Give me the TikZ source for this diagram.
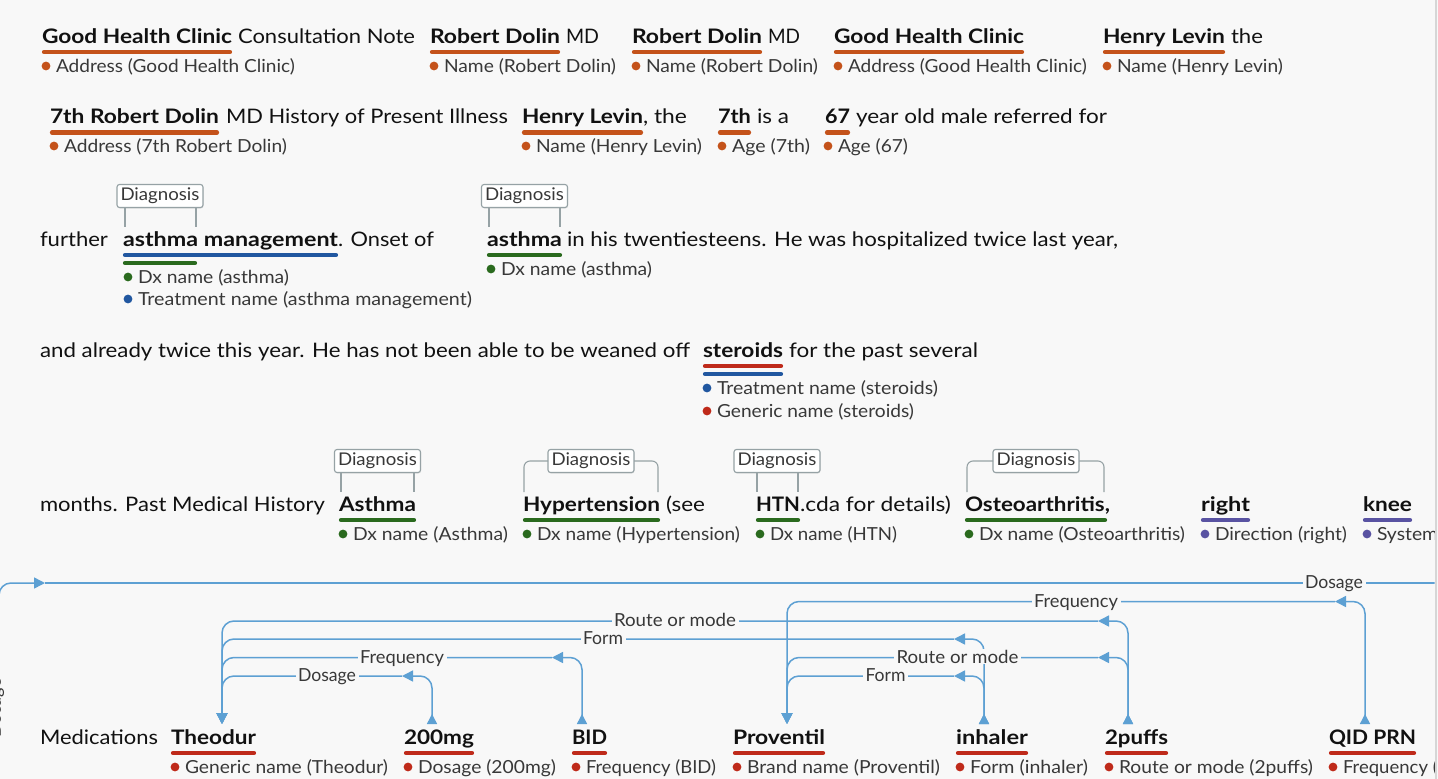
\documentclass[tikz,border=0pt]{standalone}
\usepackage{fontspec}
\setmainfont{Lato}
\usepackage{graphicx}
\usetikzlibrary{calc,arrows.meta,shadows}

\definecolor{bgc}{HTML}{F8F8F8}
\definecolor{ink}{HTML}{111111}
\definecolor{labc}{HTML}{383838}
\definecolor{cOr}{HTML}{C4521A}
\definecolor{cGr}{HTML}{2A6A1E}
\definecolor{cBl}{HTML}{2157A0}
\definecolor{cRd}{HTML}{BF2A1A}
\definecolor{cPu}{HTML}{5953A2}
\definecolor{cLn}{HTML}{5DA0D3}
\definecolor{cBox}{HTML}{96A2A5}
\definecolor{cEdge}{HTML}{D6D6D6}

% set a text at a given width (horizontal scaling only)
\newsavebox\fitbx
\newcommand\fitw[2]{\sbox\fitbx{#2}\pgfmathsetmacro\fitr{#1/\the\wd\fitbx}\scalebox{\fitr}[1]{\usebox\fitbx}}

% entity label: coloured dot followed by grey text
\newcommand\lab[6]{%
  \fill[#2] (#3,#4) circle (4.4pt);
  \node[lbl] (#1) at (#3+10,#4+6.5) {\fitw{#5}{#6}};}

% coloured underline below a word, #3 = depth below baseline
\newcommand\uln[3]{\draw[ul,#2] ([yshift=-#3pt]#1.base west) -- ([yshift=-#3pt]#1.base east);}

% medication relation: source -> mid arrow -> target, label halfway
\newcommand\medrel[6]{%
  \draw[rel,srcT] (#1) |- ($(#1 |- #3)+(-30,0)$) coordinate (#6m);
  \draw[rel,tipT] (#6m) -| (#2);
  \node[clab] (#6) at ($(#1 |- #3)!.5!(#2 |- #3)+(0,5.5)$) {\fitw{#5}{#4}};}

\tikzset{
  every node/.style={inner sep=0pt, outer sep=0pt},
  tx/.style={anchor=base west, text=ink, font=\fontsize{20}{24}\selectfont},
  wd/.style={tx, font=\fontsize{20}{24}\selectfont\bfseries, text height=18pt, text depth=4pt, inner ysep=2pt},
  lbl/.style={anchor=base west, text=labc, font=\fontsize{18}{22}\selectfont},
  ul/.style={line width=4.2pt, line cap=round, shorten <=2pt, shorten >=2pt},
  dxbox/.style={draw=cBox, fill=white, rounded corners=2.5pt, line width=1.1pt,
    minimum width=86pt, minimum height=23pt, text=labc, font=\fontsize{17.5}{20}\selectfont,
    drop shadow={shadow xshift=0.5pt, shadow yshift=-1pt, opacity=.18}},
  dxtick/.style={draw=cBox, line width=1.1pt},
  rel/.style={draw=cLn, line width=1.5pt, rounded corners=12pt},
  tipT/.style={-{Triangle[length=11pt,width=11pt]}},
  srcT/.style={{Triangle[reversed,length=10pt,width=10pt]}-{Triangle[length=11pt,width=11pt]}},
  clab/.style={anchor=base, fill=bgc, inner xsep=2.5pt, inner ysep=1pt, text=labc, font=\fontsize{18}{22}\selectfont},
}

\begin{document}
\begin{tikzpicture}[x=1pt,y=-1pt]
\useasboundingbox (0,0) rectangle (1438,779);
\fill[bgc] (0,0) rectangle (1438,779);

\begin{scope}
\clip (0,0) rectangle (1434.5,779);

% ---------- line 1 ----------
\node[wd] (r1a) at (42,43) {\fitw{190}{Good Health Clinic}};
\node[tx] (r1b) at (238,43) {\fitw{177}{Consultation Note}};
\node[wd] (r1c) at (430,43) {\fitw{130}{Robert Dolin}};
\node[tx] (r1d) at (566,43) {\fitw{33}{MD}};
\node[wd] (r1e) at (632,43) {\fitw{130}{Robert Dolin}};
\node[tx] (r1f) at (768,43) {\fitw{32}{MD}};
\node[wd] (r1g) at (834,43) {\fitw{190}{Good Health Clinic}};
\node[wd] (r1h) at (1103,43) {\fitw{122}{Henry Levin}};
\node[tx] (r1i) at (1231,43) {\fitw{32}{the}};
\uln{r1a}{cOr}{9}\uln{r1c}{cOr}{9}\uln{r1e}{cOr}{9}\uln{r1g}{cOr}{9}\uln{r1h}{cOr}{9}
\lab{l1a}{cOr}{46}{66}{239}{Address (Good Health Clinic)}
\lab{l1c}{cOr}{434}{66}{172}{Name (Robert Dolin)}
\lab{l1e}{cOr}{636}{66}{172}{Name (Robert Dolin)}
\lab{l1g}{cOr}{838}{66}{239}{Address (Good Health Clinic)}
\lab{l1h}{cOr}{1107}{66}{166}{Name (Henry Levin)}

% ---------- line 2 ----------
\node[wd] (r2a) at (50,123) {\fitw{169}{7th Robert Dolin}};
\node[tx] (r2b) at (226,123) {\fitw{282}{MD History of Present Illness}};
\node[wd] (r2c) at (522,123) {\fitw{121}{Henry Levin}};
\node[tx] (r2d) at (643,123) {\fitw{44}{, the}};
\node[wd] (r2e) at (718,123) {\fitw{33}{7th}};
\node[tx] (r2f) at (757,123) {\fitw{32}{is a}};
\node[wd] (r2g) at (825,123) {\fitw{25}{67}};
\node[tx] (r2h) at (856,123) {\fitw{251}{year old male referred for}};
\uln{r2a}{cOr}{9.5}\uln{r2c}{cOr}{9.5}\uln{r2e}{cOr}{9.5}\uln{r2g}{cOr}{9.5}
\lab{l2a}{cOr}{54}{146}{223}{Address (7th Robert Dolin)}
\lab{l2c}{cOr}{526}{146}{166}{Name (Henry Levin)}
\lab{l2e}{cOr}{722}{146}{78}{Age (7th)}
\lab{l2g}{cOr}{828}{146}{70}{Age (67)}

% ---------- line 3 ----------
\node[tx] (r3a) at (40,246) {\fitw{68}{further}};
\node[wd] (r3b) at (123,246) {\fitw{215}{asthma management}};
\node[tx] (r3c) at (338,246) {\fitw{96}{. Onset of}};
\node[wd] (r3d) at (487,246) {\fitw{75}{asthma}};
\node[tx] (r3e) at (567,246) {\fitw{551}{in his twentiesteens. He was hospitalized twice last year,}};
\uln{r3b}{cBl}{9}
\draw[ul,cGr] ([yshift=-17pt]r3b.base west) -- ([shift={(74pt,-17pt)}]r3b.base west);
\uln{r3d}{cGr}{9}
\lab{l3a}{cGr}{128}{277}{151}{Dx name (asthma)}
\lab{l3b}{cBl}{128}{299}{334}{Treatment name (asthma management)}
\lab{l3d}{cGr}{491}{269}{151}{Dx name (asthma)}
\node[dxbox] (dx1) at (160,196) {\fitw{79}{Diagnosis}};
\draw[dxtick] ([xshift=-35pt]dx1.south) -- ++(0,19);
\draw[dxtick] ([xshift=36pt]dx1.south) -- ++(0,19);
\node[dxbox] (dx2) at (524.5,196) {\fitw{79}{Diagnosis}};
\draw[dxtick] ([xshift=-35.5pt]dx2.south) -- ++(0,19);
\draw[dxtick] ([xshift=35.5pt]dx2.south) -- ++(0,19);

% ---------- line 4 ----------
\node[tx] (r4a) at (40,357) {\fitw{650}{and already twice this year. He has not been able to be weaned off}};
\node[wd] (r4b) at (703,357) {\fitw{80}{steroids}};
\node[tx] (r4c) at (789,357) {\fitw{189}{for the past several}};
\uln{r4b}{cRd}{9}\uln{r4b}{cBl}{17}
\lab{l4a}{cBl}{707}{388}{221}{Treatment name (steroids)}
\lab{l4b}{cRd}{707}{411}{197}{Generic name (steroids)}

% ---------- line 5 ----------
\node[tx] (r5a) at (40,511) {\fitw{285}{months. Past Medical History}};
\node[wd] (r5b) at (339,511) {\fitw{77}{Asthma}};
\node[wd] (r5c) at (523,511) {\fitw{137}{Hypertension}};
\node[tx] (r5d) at (666,511) {\fitw{39}{(see}};
\node[wd] (r5e) at (756,511) {\fitw{44}{HTN}};
\node[tx] (r5f) at (800,511) {\fitw{151}{.cda for details)}};
\node[wd] (r5g) at (965,511) {\fitw{145}{Osteoarthritis,}};
\node[wd] (r5h) at (1201,511) {\fitw{49}{right}};
\node[wd] (r5i) at (1363,511) {\fitw{49}{knee}};
\uln{r5b}{cGr}{9}\uln{r5c}{cGr}{9}\uln{r5e}{cGr}{9}
\draw[ul,cGr] ([yshift=-9pt]r5g.base west) -- ([shift={(-3pt,-9pt)}]r5g.base east);
\uln{r5h}{cPu}{9}\uln{r5i}{cPu}{9}
\lab{l5b}{cGr}{343}{534}{155}{Dx name (Asthma)}
\lab{l5c}{cGr}{527}{534}{203}{Dx name (Hypertension)}
\lab{l5e}{cGr}{760}{534}{127}{Dx name (HTN)}
\lab{l5g}{cGr}{969}{534}{206}{Dx name (Osteoarthritis)}
\lab{l5h}{cPu}{1205}{534}{132}{Direction (right)}
\lab{l5i}{cPu}{1367}{534}{205}{System organ site (knee)}
\node[dxbox] (dx3) at (377.5,461) {\fitw{79}{Diagnosis}};
\draw[dxtick] ([xshift=-36.5pt]dx3.south) -- ++(0,19.5);
\draw[dxtick] ([xshift=36.5pt]dx3.south) -- ++(0,19.5);
\node[dxbox] (dx4) at (591,461) {\fitw{79}{Diagnosis}};
\draw[dxtick,rounded corners=6pt] (dx4.west) -| ++(-24,31);
\draw[dxtick,rounded corners=6pt] (dx4.east) -| ++(24,31);
\node[dxbox] (dx5) at (777,461) {\fitw{79}{Diagnosis}};
\draw[dxtick] ([xshift=-20pt]dx5.south) -- ++(0,19.5);
\draw[dxtick] ([xshift=21pt]dx5.south) -- ++(0,19.5);
\node[dxbox] (dx6) at (1036,461) {\fitw{79}{Diagnosis}};
\draw[dxtick,rounded corners=6pt] (dx6.west) -| ++(-26,31);
\draw[dxtick,rounded corners=6pt] (dx6.east) -| ++(25,31);

% ---------- line 6: medications ----------
\node[tx] (r6a) at (40,744) {\fitw{118}{Medications}};
\node[wd] (theo) at (171,744) {\fitw{85}{Theodur}};
\node[wd] (mg) at (404,744) {\fitw{70}{200mg}};
\node[wd] (bid) at (572,744) {\fitw{35}{BID}};
\node[wd] (prov) at (733,744) {\fitw{92}{Proventil}};
\node[wd] (inh) at (956,744) {\fitw{72}{inhaler}};
\node[wd] (puf) at (1105,744) {\fitw{63}{2puffs}};
\node[wd] (qid) at (1329,744) {\fitw{87}{QID PRN}};
\uln{theo}{cRd}{9}\uln{mg}{cRd}{9}\uln{bid}{cRd}{9}\uln{prov}{cRd}{9}
\uln{inh}{cRd}{9}\uln{puf}{cRd}{9}\uln{qid}{cRd}{9}
\lab{l6a}{cRd}{175}{767}{203}{Generic name (Theodur)}
\lab{l6b}{cRd}{408}{767}{138}{Dosage (200mg)}
\lab{l6c}{cRd}{576}{767}{130}{Frequency (BID)}
\lab{l6d}{cRd}{737}{767}{193}{Brand name (Proventil)}
\lab{l6e}{cRd}{960}{767}{118}{Form (inhaler)}
\lab{l6f}{cRd}{1109}{767}{194}{Route or mode (2puffs)}
\lab{l6g}{cRd}{1333}{767}{175}{Frequency (QID PRN)}

% relation levels and attachment points
\coordinate (L0) at (0,583);
\coordinate (L1) at (0,601.5);
\coordinate (L2) at (0,621);
\coordinate (L3) at (0,639);
\coordinate (L4) at (0,657.5);
\coordinate (L5) at (0,676);
\coordinate (aTheo) at ([xshift=8.5pt]theo.north);
\coordinate (aMg) at ([xshift=-7pt]mg.north);
\coordinate (aBid) at ([xshift=-7.5pt]bid.north);
\coordinate (aProv) at ([xshift=8pt]prov.north);
\coordinate (aInh) at ([xshift=-8pt]inh.north);
\coordinate (aPuf) at ([xshift=-8.5pt]puf.north);
\coordinate (aQid) at ([xshift=-7.5pt]qid.north);

% long dosage relation entering from the left
\coordinate (offS) at (-1,690);
\coordinate (offE) at (1445,583);
\draw[rel,tipT] (offS) |- ($(offS |- L0)+(46,0)$) coordinate (L0m);
\draw[rel] (L0m) -- (offE);
\node[clab] (c0) at (1334,588.5) {\fitw{58}{Dosage}};
\node[text=labc, font=\fontsize{18}{22}\selectfont, rotate=90] (c0b) at (-4,708) {Dosage};

\medrel{aMg}{aTheo}{L5}{Dosage}{58}{c1}
\medrel{aBid}{aTheo}{L4}{Frequency}{84}{c2}
\medrel{aInh}{aTheo}{L3}{Form}{40}{c3}
\medrel{aPuf}{aTheo}{L2}{Route or mode}{122}{c4}
\medrel{aQid}{aProv}{L1}{Frequency}{84}{c5}
\medrel{aPuf}{aProv}{L4}{Route or mode}{122}{c6}
\medrel{aInh}{aProv}{L5}{Form}{40}{c7}
\end{scope}

% right edge of the panel
\draw[cEdge, line width=1.5pt] (1436,0) -- (1436,779);
\end{tikzpicture}
\end{document}
